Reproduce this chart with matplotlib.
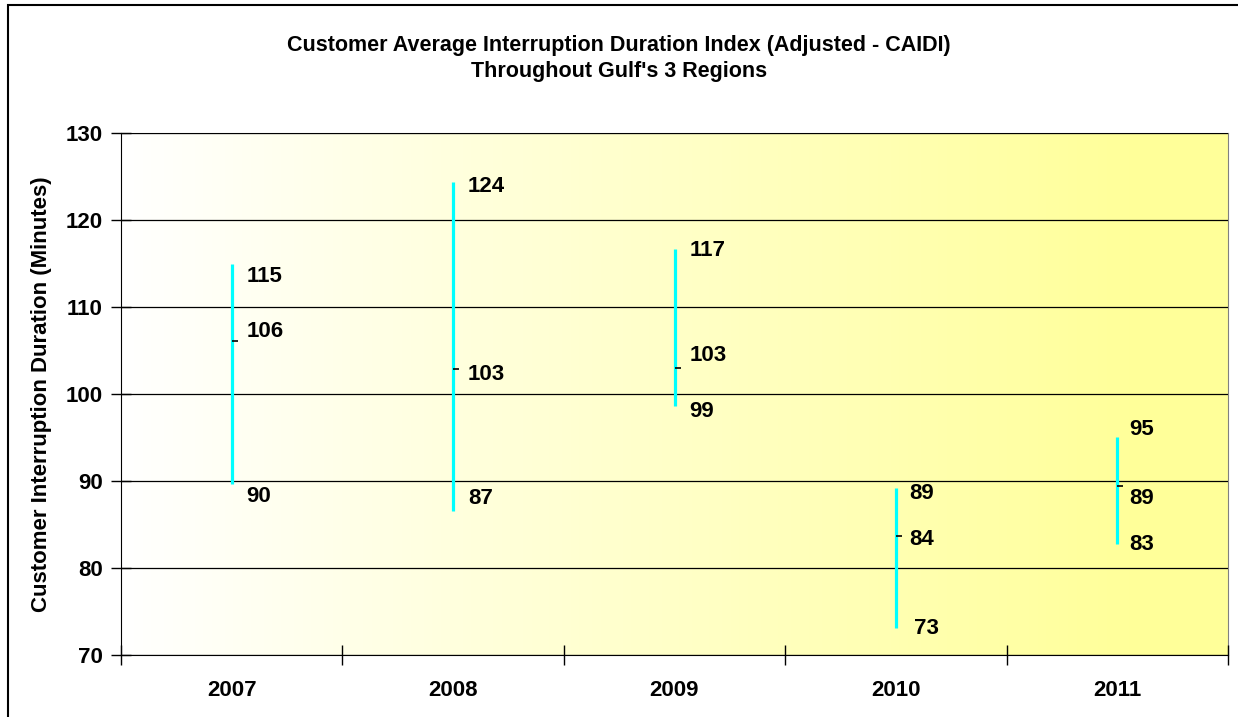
import numpy as np
import matplotlib.pyplot as plt
from matplotlib.colors import LinearSegmentedColormap
from matplotlib.patches import Rectangle

plt.rcParams["font.family"] = ["Liberation Sans", "DejaVu Sans"]
plt.rcParams["font.weight"] = "bold"

# data
years = ["2007", "2008", "2009", "2010", "2011"]
high = [115.0, 124.4, 116.7, 89.2, 95.1]
low = [89.6, 86.6, 98.6, 73.1, 82.8]
avg = [106.1, 102.9, 103.0, 83.7, 89.4]

# label offsets in pixels (dx, dy), dy positive = up
hi_off = [(15, -13), (15, -5), (15, -2), (13, -6), (12, 7)]
avg_off = [(15, 9), (15, -6), (15, 12), (13, -4), (12, -12)]
lo_off = [(15, -12), (15, 12), (15, -5), (18, 0), (12, -1)]

fig = plt.figure(figsize=(12.38, 7.17), dpi=100)
ax = fig.add_axes([121 / 1238, 1 - 655 / 717, 1107 / 1238, 522 / 717])

# figure border
fig.patches.append(Rectangle((8 / 1238, -0.01), 1.02, 1 - 5 / 717 + 0.01,
                             transform=fig.transFigure, fill=False,
                             edgecolor="black", linewidth=1.5))

x = np.arange(1, len(years) + 1)
ax.set_xlim(0.5, len(years) + 0.5)
ax.set_ylim(70, 130)

# white -> yellow gradient background
cmap = LinearSegmentedColormap.from_list("wy", [(0, "#ffffff"), (0.92, "#ffff99"), (1, "#ffff99")])
grad = np.linspace(0, 1, 256).reshape(1, -1)
ax.imshow(grad, extent=[0.5, len(years) + 0.5, 70, 130], aspect="auto",
          cmap=cmap, zorder=0)

ax.set_yticks(np.arange(70, 131, 10))
ax.grid(axis="y", color="black", linewidth=0.9, zorder=1)
ax.set_axisbelow(False)

ax.vlines(x, low, high, color="#00ffff", linewidth=2.3, zorder=3)
ax.plot(x, avg, linestyle="none", marker=1, markersize=4, color="black",
        markeredgewidth=1.2, zorder=4)

for i in range(len(years)):
    for val, off in ((high[i], hi_off[i]), (avg[i], avg_off[i]), (low[i], lo_off[i])):
        ax.annotate(f"{val:.0f}", (x[i], val), xytext=off, textcoords="offset pixels",
                    ha="left", va="center", fontsize=16, fontweight="bold", zorder=5)

# category ticks between groups, labels at centres
ax.set_xticks(np.arange(0.5, len(years) + 1, 1))
ax.set_xticklabels([])
ax.set_xticks(x, minor=True)
ax.set_xticklabels(years, minor=True, fontsize=16, fontweight="bold")
ax.tick_params(axis="x", which="major", direction="inout", length=14, width=1)
ax.tick_params(axis="x", which="minor", length=0, pad=18)
ax.tick_params(axis="y", direction="inout", length=14, width=1, labelsize=16, pad=6)

for side in ("top", "right"):
    ax.spines[side].set_color("#808080")
ax.spines["left"].set_color("black")
ax.spines["bottom"].set_color("black")

ax.set_ylabel("Customer Interruption Duration (Minutes)", fontsize=16,
              fontweight="bold", labelpad=10)

fig.text(0.5, 1 - 45 / 717, "Customer Average Interruption Duration Index (Adjusted - CAIDI)",
         ha="center", va="center", fontsize=15.5, fontweight="bold")
fig.text(0.5, 1 - 72 / 717, "Throughout Gulf's 3 Regions",
         ha="center", va="center", fontsize=15.5, fontweight="bold")

fig.savefig("out.png", dpi=100)
